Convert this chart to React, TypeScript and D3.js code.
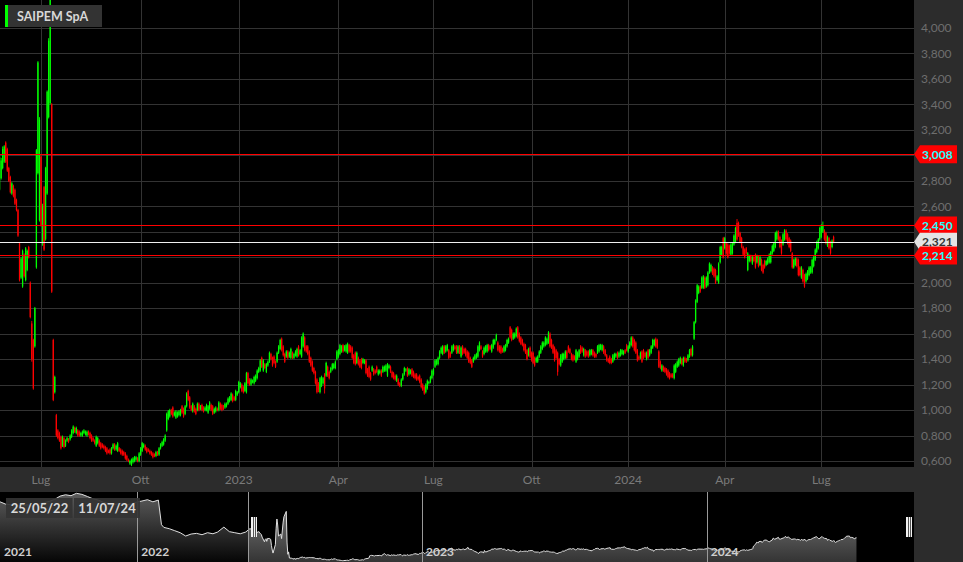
import React from 'react';
import * as d3 from 'd3';

// ---------- DATA ----------
const seriesName = 'SAIPEM SpA';
const firstDay = '2022-05-25';
const lastDay = '2024-07-11';
const holidays = ['2022-08-15', '2022-12-26', '2023-04-07', '2023-04-10', '2023-05-01', '2023-08-15', '2023-12-25', '2023-12-26', '2024-01-01', '2024-03-29', '2024-04-01', '2024-05-01'];

// daily prices in euro cents
const opens = [
273,282,290,295,310,305,290,283,270,276, 273,265,257,231,204,197,222,202,210,228,
200,168,155,150,212,286,249,299,230,275, 234,270,330,341,340,155,114,96,84,82,
79,72,78,72,76,77,77,79,82,86, 82,84,83,80,80,82,81,80,83,82,
80,78,76,72,74,76,74,73,72,71, 70,68,69,66,70,73,69,68,70,69,
68,67,66,64,61,58,57,59,60,61, 62,60,65,68,71,72,70,69,68,67,
66,65,64,67,65,70,72,73,76,84, 93,95,100,102,96,94,95,96,96,103,
101,97,103,115,110,103,99,103,101,100, 105,101,104,102,100,100,98,101,104,103,
98,99,101,100,105,104,103,102,103,105, 107,108,112,110,108,112,114,118,120,118,
115,114,129,124,120,122,121,123,125,130, 131,141,131,136,130,135,138,144,141,142,
138,138,145,148,156,150,144,142,146,142, 141,145,141,143,142,150,144,142,150,157,
150,150,146,141,138,133,130,124,121,114, 119,121,128,127,134,130,130,132,133,133,
140,142,144,146,151,147,146,145,151,150, 149,143,145,137,141,139,140,137,137,139,
132,134,129,131,132,131,134,128,129,131, 130,131,131,127,133,134,130,129,127,123,
124,121,119,124,128,131,133,128,129,132, 130,128,128,126,127,124,120,118,114,117,
121,122,125,128,134,136,136,141,145,144, 150,146,147,147,145,145,147,150,150,145,
150,142,150,148,148,146,145,141,139,138, 140,141,142,147,150,146,144,146,146,151,
150,146,149,152,155,153,150,150,148,146, 147,150,153,165,163,156,157,158,165,160,
157,155,152,151,147,143,149,145,145,141, 138,138,142,145,148,150,151,152,153,160,
155,151,149,147,145,140,135,138,140,141, 146,150,148,144,143,142,138,140,142,150,
149,143,147,146,146,143,144,147,145,144, 145,146,148,147,150,147,143,140,142,140,
138,140,142,145,142,143,144,144,147,151, 146,149,151,157,155,153,147,142,141,146,
147,145,140,147,143,145,149,151,156,155, 146,138,131,134,133,132,131,129,128,128,
125,130,134,135,137,140,135,141,140,139, 142,148,143,156,169,185,192,197,196,196,
204,197,198,208,209,212,211,210,202,200, 216,222,235,227,231,230,229,222,223,230,
232,247,247,239,235,228,226,227,210,217, 221,215,220,222,216,220,214,218,214,217,
214,215,216,216,223,225,228,234,240,236, 233,230,234,241,238,235,233,223,212,214,
219,218,212,204,210,206,201,203,206,208, 208,213,218,224,227,234,236,240,241,239,
229,235,232,228,236
];
const highs = [
300,298,307,308,311,306,291,284,279,277, 274,266,258,232,220,226,223,228,226,229,
201,170,156,181,305,374,330,300,262,276, 291,351,392,440,341,156,127,97,85,83,
80,80,79,77,79,78,81,85,88,87, 87,85,84,83,84,85,84,84,84,83,
81,79,77,80,79,77,75,74,73,72, 71,69,70,71,74,74,73,75,71,70,
69,68,67,65,62,61,62,63,64,64, 63,67,71,75,74,73,71,70,69,68,
67,66,68,68,71,74,76,78,81,98, 100,101,101,103,99,100,99,100,101,104,
102,104,114,116,111,104,106,104,102,106, 106,104,105,103,103,105,104,107,105,104,
102,103,102,107,106,105,104,106,106,110, 111,114,113,111,116,115,123,122,121,119,
122,130,130,125,125,124,127,128,132,134, 140,142,140,137,137,139,146,145,142,143,
139,146,151,156,157,151,145,147,147,146, 149,146,145,147,149,151,148,158,161,158,
151,151,147,142,139,134,131,125,122,126, 127,126,129,138,135,131,134,137,137,139,
147,148,152,151,152,151,152,153,152,151, 150,144,146,146,142,140,141,141,140,140,
133,135,130,135,133,132,135,132,132,132, 135,135,136,137,136,135,131,130,128,128,
125,122,125,129,134,133,134,133,132,133, 131,129,129,127,128,125,121,119,121,124,
123,127,132,133,140,140,142,147,150,151, 151,151,152,148,146,151,152,151,151,151,
151,150,151,149,149,147,146,142,140,142, 144,145,151,154,151,147,150,151,152,152,
151,152,156,156,160,154,151,151,149,151, 152,156,157,166,164,161,161,165,166,161,
158,156,153,152,148,149,150,146,146,142, 142,143,147,151,154,154,158,157,162,161,
156,152,150,148,146,141,144,145,145,147, 147,151,149,145,144,143,148,146,148,151,
150,149,148,147,147,148,148,148,146,145, 151,152,152,152,151,148,144,141,143,141,
144,145,145,146,146,148,148,147,148,152, 151,154,158,158,156,154,148,143,146,147,
148,146,146,148,148,151,156,156,157,156, 147,139,136,135,134,133,132,130,129,129,
136,137,139,141,142,141,142,142,141,144, 148,149,151,170,187,199,198,198,205,206,
205,205,209,216,215,213,212,211,206,216, 229,229,236,236,232,231,230,231,232,238,
244,250,248,240,236,229,227,228,224,222, 222,221,221,223,222,221,221,219,215,218,
218,220,223,225,230,232,240,241,241,237, 234,239,242,242,239,236,234,224,219,220,
220,219,213,213,211,207,208,210,213,213, 219,221,227,233,235,244,246,248,242,240,
237,236,233,234,237
];
const lows = [
272,281,289,294,294,287,279,270,269,267, 261,256,236,201,203,196,204,201,209,219,
172,138,116,149,211,285,248,244,229,225, 233,269,329,340,192,107,113,79,77,75,
69,71,70,71,75,74,76,78,81,82, 81,79,79,79,79,81,80,79,80,77,
75,75,73,71,73,71,69,70,69,67, 65,66,65,65,69,68,68,67,67,65,
64,64,61,60,59,57,56,58,59,60, 59,59,64,67,70,68,66,67,65,64,
62,63,63,64,64,69,71,72,75,83, 92,94,96,94,95,93,94,95,95,97,
94,96,102,107,101,99,98,98,96,99, 99,100,99,98,99,99,97,100,99,96,
97,98,99,99,100,99,100,101,102,104, 106,107,106,107,107,111,113,117,114,113,
114,113,120,119,119,121,120,122,124,129, 130,133,130,132,129,134,137,139,134,136,
133,137,144,147,146,142,137,141,140,141, 140,140,140,142,141,142,143,141,149,146,
145,143,137,134,130,128,120,113,114,113, 118,120,113,126,126,124,129,131,132,132,
139,141,143,145,145,146,145,144,145,145, 140,136,135,136,135,133,132,136,136,128,
126,125,123,130,127,128,129,127,128,126, 129,130,130,126,132,129,125,124,123,122,
119,118,118,123,127,130,126,127,128,126, 125,124,123,123,121,117,115,112,113,116,
120,121,124,127,133,135,135,140,144,143, 144,145,146,140,141,144,146,147,144,144,
144,141,143,144,142,140,137,136,133,137, 139,140,141,146,147,141,143,145,145,146,
147,145,148,151,154,146,145,144,145,145, 146,149,152,156,154,155,156,157,156,153,
151,150,146,144,139,142,141,138,136,134, 137,137,141,144,147,149,150,151,152,149,
148,144,138,140,127,135,134,137,139,140, 140,145,144,139,138,139,137,139,141,144,
145,142,141,142,141,142,143,142,141,141, 144,145,147,146,144,142,138,137,136,136,
137,139,141,140,141,142,143,143,144,146, 145,148,150,149,146,144,138,139,140,137,
140,141,139,140,142,144,148,150,149,148, 133,132,130,130,129,127,125,124,125,125,
124,129,133,134,136,135,134,137,137,138, 141,142,142,155,168,184,191,192,195,195,
195,196,197,207,208,206,204,199,201,199, 215,221,219,226,222,219,222,221,222,229,
231,233,236,231,227,221,219,222,209,216, 216,214,216,211,215,212,213,209,207,211,
213,214,215,215,222,224,227,233,233,227, 222,229,233,233,230,227,224,211,211,213,
212,205,205,203,200,196,200,202,205,207, 207,212,217,223,226,233,235,239,233,230,
228,226,222,227,231
];
const closes = [
299,296,305,307,295,288,280,271,278,268, 262,257,237,202,219,225,205,227,225,220,
173,140,117,180,304,373,328,245,260,226, 290,350,390,430,193,108,126,80,78,76,
70,79,71,76,78,75,80,84,87,83, 86,80,80,82,83,84,83,83,81,78,
76,76,74,79,78,72,70,71,70,68, 66,67,66,70,73,69,72,74,68,66,
65,65,62,61,60,60,61,62,63,63, 60,66,70,74,73,69,67,68,66,65,
63,64,67,65,70,73,75,77,80,97, 99,100,97,95,98,99,98,99,100,98,
95,103,113,108,102,100,105,99,97,105, 100,103,100,99,102,104,103,106,100,97,
101,102,100,106,101,100,101,105,105,109, 110,113,107,108,115,114,122,121,115,114,
121,129,121,120,124,123,126,127,131,133, 139,134,139,133,136,138,145,140,135,137,
134,145,150,155,147,143,138,146,141,145, 148,141,144,146,148,143,147,157,160,147,
146,144,138,135,131,129,121,114,116,125, 126,125,117,137,127,125,133,136,136,138,
146,147,151,150,146,150,151,152,146,146, 141,137,136,145,136,134,133,140,139,129,
127,126,124,134,128,129,130,131,131,127, 134,134,135,136,135,130,126,125,124,127,
120,119,124,128,133,132,127,132,131,127, 126,125,124,124,122,118,116,113,120,123,
122,126,131,132,139,139,141,146,149,150, 145,150,151,141,142,150,151,148,145,150,
145,149,144,145,143,141,138,137,134,141, 143,144,150,153,148,142,149,150,151,147,
148,151,155,155,159,147,146,145,146,150, 151,155,156,157,155,160,160,164,157,154,
152,151,147,145,140,148,142,139,137,135, 141,142,146,150,153,153,157,156,161,150,
149,145,139,141,130,136,143,144,144,146, 141,146,145,140,139,140,147,145,147,145,
146,148,142,143,142,147,147,143,142,142, 150,151,151,151,145,143,139,138,137,137,
143,144,144,141,145,147,147,146,145,147, 150,153,157,150,147,145,139,140,145,138,
141,142,145,141,147,150,155,155,150,149, 134,133,135,131,130,128,126,125,126,126,
135,136,138,140,141,136,141,138,138,143, 147,143,150,169,186,198,197,193,204,205,
196,204,208,215,214,207,205,200,205,215, 228,228,220,235,223,220,223,230,231,237,
243,234,237,232,228,222,220,223,223,221, 217,220,217,212,221,213,220,210,208,212,
217,219,222,224,229,231,239,240,234,228, 223,238,241,234,231,228,225,212,218,219,
213,206,206,212,201,197,207,209,212,212, 218,220,226,232,234,243,245,245,234,231,
236,227,223,233,232
];

// navigator history before the zoomed window (weekly closes, euro)
const navPreDates = ['2021-07-09','2021-07-16','2021-07-23','2021-07-30','2021-08-06','2021-08-13','2021-08-20','2021-08-27','2021-09-03','2021-09-10','2021-09-17','2021-09-24','2021-10-01','2021-10-08','2021-10-15','2021-10-22','2021-10-29','2021-11-05','2021-11-12','2021-11-19','2021-11-26','2021-12-03','2021-12-10','2021-12-17','2021-12-24','2021-12-31','2022-01-07','2022-01-14','2022-01-21','2022-01-28','2022-02-01','2022-02-04','2022-02-11','2022-02-18','2022-02-25','2022-03-04','2022-03-11','2022-03-18','2022-03-25','2022-04-01','2022-04-08','2022-04-14','2022-04-22','2022-04-29','2022-05-06','2022-05-13','2022-05-20'];
const navPreValues = [5.02,4.85,4.80,4.72,4.70,4.80,4.68,4.85,4.95,5.05,5.20,5.45,5.55,5.48,5.66,5.58,5.42,5.25,5.15,4.98,4.88,4.82,4.92,4.80,4.86,5.00,5.08,5.18,5.02,5.15,3.30,3.10,3.00,2.85,2.70,2.45,2.60,2.65,2.55,2.70,2.62,2.75,3.12,2.78,2.70,2.62,2.75];

const yTicks = [0.6, 0.8, 1.0, 1.2, 1.4, 1.6, 1.8, 2.0, 2.2, 2.4, 2.6, 2.8, 3.0, 3.2, 3.4, 3.6, 3.8, 4.0];
const monthLabels = ['Gen', 'Feb', 'Mar', 'Apr', 'Mag', 'Giu', 'Lug', 'Ago', 'Set', 'Ott', 'Nov', 'Dic'];
const tickMonths = [0, 3, 6, 9];
const levelLines = [3.008, 2.450, 2.214];
const lastPrice = 2.321;
const navYears = ['2021-01-01', '2022-01-01', '2023-01-01', '2024-01-01'];
const rangeLabels = ['25/05/22', '11/07/24'];

// ---------- HELPERS ----------
function buildTradingDays(start: string, end: string, hol: string[]) {
  const out: Date[] = [];
  const hs = new Set(hol);
  const endD = new Date(end + 'T00:00:00Z');
  for (let d = new Date(start + 'T00:00:00Z'); d <= endD; d = new Date(d.getTime() + 86400000)) {
    const wd = d.getUTCDay();
    if (wd === 0 || wd === 6) continue;
    if (hs.has(d.toISOString().slice(0, 10))) continue;
    out.push(d);
  }
  return out;
}

const locale = d3.formatLocale({ decimal: ',', thousands: '.', grouping: [3], currency: ['', ''] });
const fmt = locale.format('.3f');

const FONT = "Lato, 'DejaVu Sans', sans-serif";
const PLOT_R = 914;
const PLOT_B = 467;
const NAV_T = 492;
const NAV_B = 562;
const PANEL = '#2c2c2c';
const GREEN = '#00ff00';
const RED = '#ff0000';

export default function App() {
  const days = buildTradingDays(firstDay, lastDay, holidays).slice(0, closes.length);
  const n = closes.length;

  const x = d3.scaleLinear().domain([0, n - 1]).range([-0.4, 833.6]);
  const y = d3.scaleLinear().domain([0.6, 4.0]).range([461, 28]);

  // month ticks (quarterly)
  const ticks: { i: number; label: string }[] = [];
  for (let i = 1; i < days.length; i++) {
    const m = days[i].getUTCMonth();
    if (m !== days[i - 1].getUTCMonth() && tickMonths.includes(m)) {
      ticks.push({ i, label: m === 0 ? String(days[i].getUTCFullYear()) : monthLabels[m] });
    }
  }

  // navigator
  const nx = d3.scaleUtc()
    .domain([new Date('2022-01-01T00:00:00Z'), new Date('2024-01-01T00:00:00Z')])
    .range([137.3, 706.7]);
  const ny = d3.scaleLinear().domain([0.5, 5.72]).range([NAV_B, NAV_T + 0.5]);
  const navData = [
    ...navPreDates.map((d, k) => ({ d: new Date(d + 'T00:00:00Z'), v: navPreValues[k] })),
    ...days.map((d, k) => ({ d, v: closes[k] / 100 })),
  ];
  const area = d3.area<{ d: Date; v: number }>().x(p => nx(p.d)).y0(NAV_B).y1(p => ny(p.v));
  const line = d3.line<{ d: Date; v: number }>().x(p => nx(p.d)).y(p => ny(p.v));
  const selStart = Math.round(nx(days[0])) - 1.5;

  const priceLabel = (v: number, fill: string, text: string, key: string) => {
    const cy = y(v);
    const h = 9;
    const p = `M${PLOT_R},${cy} L${PLOT_R + 6},${cy - h} L957,${cy - h} L957,${cy + h} L${PLOT_R + 6},${cy + h} Z`;
    return (
      <g key={key}>
        <path d={p} fill={fill} />
        <text x={922} y={cy} dy="0.36em" fontSize={12} fontWeight={700} fill={text} fontFamily={FONT}>{fmt(v)}</text>
      </g>
    );
  };

  const labelsOrder = [
    { v: levelLines[0], fill: RED, text: '#22ffff' },
    { v: levelLines[1], fill: RED, text: '#22ffff' },
    { v: lastPrice, fill: '#e4e4e4', text: '#333333' },
    { v: levelLines[2], fill: RED, text: '#22ffff' },
  ];

  const handle = (hx: number, key: string) => (
    <g key={key} shapeRendering="crispEdges">
      <rect x={hx} y={517} width={6} height={20} fill="#f2f2f2" />
      <rect x={hx + 2} y={517} width={1} height={20} fill="#555" />
      <rect x={hx + 4} y={517} width={1} height={20} fill="#555" />
    </g>
  );

  return (
    <svg width={963} height={562} style={{ position: 'fixed', left: 0, top: 0, display: 'block' }} fontFamily={FONT}>
      <defs>
        <clipPath id="plotClip"><rect x={0} y={0} width={PLOT_R} height={PLOT_B} /></clipPath>
        <clipPath id="navOut"><rect x={0} y={NAV_T} width={selStart} height={NAV_B - NAV_T} /></clipPath>
        <clipPath id="navIn"><rect x={selStart} y={NAV_T} width={PLOT_R - selStart} height={NAV_B - NAV_T} /></clipPath>
        <linearGradient id="navGradOut" gradientUnits="userSpaceOnUse" x1={0} y1={NAV_T} x2={0} y2={NAV_B}>
          <stop offset="0%" stopColor="#5e5e5e" />
          <stop offset="100%" stopColor="#060606" />
        </linearGradient>
        <linearGradient id="navGradIn" gradientUnits="userSpaceOnUse" x1={0} y1={NAV_T + 20} x2={0} y2={NAV_B}>
          <stop offset="0%" stopColor="#707070" />
          <stop offset="100%" stopColor="#343434" />
        </linearGradient>
      </defs>

      <rect x={0} y={0} width={963} height={562} fill="#000" />

      {/* grid */}
      <g shapeRendering="crispEdges" stroke="#333">
        {yTicks.map(t => <line key={'h' + t} x1={0} x2={PLOT_R} y1={Math.round(y(t)) + 0.5} y2={Math.round(y(t)) + 0.5} />)}
        {ticks.map(t => <line key={'v' + t.i} x1={Math.round(x(t.i)) + 0.5} x2={Math.round(x(t.i)) + 0.5} y1={0} y2={PLOT_B} />)}
      </g>

      {/* candles */}
      <g clipPath="url(#plotClip)">
        {closes.map((c, i) => {
          const o = opens[i] / 100, cl = c / 100, hi = highs[i] / 100, lo = lows[i] / 100;
          const col = cl >= o ? GREEN : RED;
          const cx = x(i);
          const top = y(Math.max(o, cl)), bot = y(Math.min(o, cl));
          return (
            <g key={i} fill={col}>
              <rect x={cx - 0.45} width={0.9} y={y(hi)} height={Math.max(1, y(lo) - y(hi))} />
              <rect x={cx - 0.65} width={1.3} y={top} height={Math.max(1, bot - top)} />
            </g>
          );
        })}
      </g>

      {/* level lines */}
      <g shapeRendering="crispEdges">
        {levelLines.map(v => <line key={'l' + v} x1={0} x2={PLOT_R} y1={Math.round(y(v)) + 0.5} y2={Math.round(y(v)) + 0.5} stroke={RED} strokeWidth={1} />)}
        <line x1={0} x2={PLOT_R} y1={Math.round(y(lastPrice)) + 0.5} y2={Math.round(y(lastPrice)) + 0.5} stroke="#f0f0f0" strokeWidth={1} />
      </g>

      {/* legend */}
      <g shapeRendering="crispEdges">
        <rect x={5} y={5} width={2.5} height={22} fill={GREEN} />
        <rect x={7.5} y={5} width={94} height={22} fill="#333" />
      </g>
      <text x={17} y={20.5} fontSize={12.5} fontWeight={700} fill="#d8d8d8">{seriesName}</text>

      {/* panels */}
      <rect x={PLOT_R} y={0} width={963 - PLOT_R} height={562} fill={PANEL} />
      <rect x={0} y={PLOT_B} width={PLOT_R} height={NAV_T - PLOT_B} fill={PANEL} />

      {/* y labels */}
      {yTicks.map(t => (
        <text key={'yl' + t} x={921} y={y(t)} dy="0.36em" fontSize={12} fill="#6e6e6e">{fmt(t)}</text>
      ))}
      {/* x labels */}
      {ticks.map(t => (
        <text key={'xl' + t.i} x={x(t.i)} y={480} dy="0.36em" textAnchor="middle" fontSize={12} fill="#7a7a7a">{t.label}</text>
      ))}

      {/* price labels */}
      {labelsOrder.map((l, k) => priceLabel(l.v, l.fill, l.text, 'pl' + k))}

      {/* navigator */}
      <rect x={0} y={NAV_T} width={PLOT_R - 1} height={NAV_B - NAV_T} fill="#000" />
      <path d={area(navData) || ''} fill="url(#navGradOut)" clipPath="url(#navOut)" />
      <path d={area(navData) || ''} fill="url(#navGradIn)" clipPath="url(#navIn)" />
      <path d={line(navData) || ''} fill="none" stroke="#e0e0e0" strokeWidth={1} />
      <g shapeRendering="crispEdges">
        {navYears.map(s => {
          const px = nx(new Date(s + 'T00:00:00Z'));
          return px > 0 ? <line key={'ny' + s} x1={Math.round(px) + 0.5} x2={Math.round(px) + 0.5} y1={NAV_T} y2={NAV_B} stroke="#9a9a9a" /> : null;
        })}
        <line x1={selStart} x2={selStart} y1={NAV_T} y2={NAV_B} stroke="#9a9a9a" />
      </g>
      {navYears.map(s => {
        const px = nx(new Date(s + 'T00:00:00Z'));
        return <text key={'nyl' + s} x={Math.max(4, px + 4)} y={556} fontSize={12} fontWeight={700} fill="#cfcfcf">{s.slice(0, 4)}</text>;
      })}
      {handle(Math.round(selStart) + 2, 'hl')}
      {handle(906, 'hr')}

      {/* range labels */}
      <g>
        <rect x={6} y={498} width={66.5} height={20} fill="#333" fillOpacity={0.92} />
        <rect x={74} y={498} width={66} height={20} fill="#333" fillOpacity={0.92} />
        <text x={39.5} y={513} textAnchor="middle" fontSize={13} fontWeight={700} fill="#d8d8d8">{rangeLabels[0]}</text>
        <text x={107} y={513} textAnchor="middle" fontSize={13} fontWeight={700} fill="#d8d8d8">{rangeLabels[1]}</text>
      </g>
    </svg>
  );
}
